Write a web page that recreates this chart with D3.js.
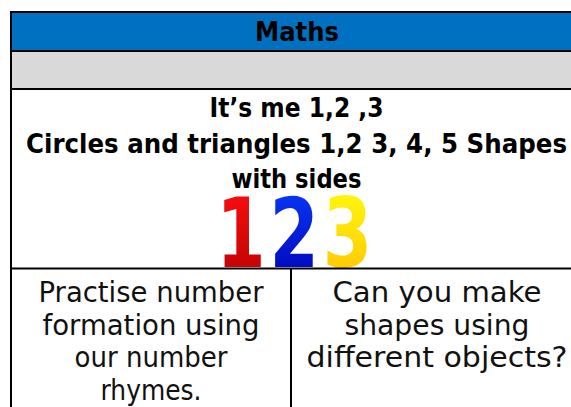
<!DOCTYPE html>
<html>
<head>
<meta charset="utf-8">
<script src="https://cdn.jsdelivr.net/npm/d3@7"></script>
<style>
  html, body { margin: 0; padding: 0; background: #ffffff; }
  svg { display: block; }
</style>
</head>
<body>
<div id="chart"></div>
<script>
// ---- content ----
const title = "Maths";
const topicLines = ["It’s me 1,2 ,3", "Circles and triangles 1,2 3, 4, 5 Shapes", "with sides"];
const topicWidths = [174, 541, 130];
const digits = ["1", "2", "3"];
const digitTop = ["#ff1010", "#0a3cff", "#ffff10"];
const digitBottom = ["#b80000", "#0000b0", "#ffbf00"];
const leftTask = ["Practise number", "formation using", "our number", "rhymes."];
const leftWidths = [225, 217, 153, 101];
const rightTask = ["Can you make", "shapes using", "different objects?"];
const rightWidths = [209, 185, 261];

// ---- layout ----
const W = 571, H = 407;
const tableX0 = 11, tableX1 = 581;
const rowY = d3.scaleOrdinal()
  .domain(["top", "head", "grey", "topic", "bottom"])
  .range([12, 51, 89, 268.5, 440]);
const colX = d3.scaleOrdinal().domain(["left", "mid", "right"]).range([tableX0, 291, tableX1]);

const svg = d3.select("#chart").append("svg").attr("width", W).attr("height", H);

// backgrounds
svg.append("rect").attr("x", tableX0).attr("y", rowY("top"))
  .attr("width", tableX1 - tableX0).attr("height", rowY("head") - rowY("top")).attr("fill", "#0070C0");
svg.append("rect").attr("x", tableX0).attr("y", rowY("head"))
  .attr("width", tableX1 - tableX0).attr("height", rowY("grey") - rowY("head")).attr("fill", "#D9D9D9");

// gradients for the digits
const defs = svg.append("defs");
digits.forEach((d, i) => {
  const g = defs.append("linearGradient").attr("id", "dg" + i)
    .attr("x1", 0).attr("y1", 0).attr("x2", 0).attr("y2", 1);
  g.append("stop").attr("offset", "0%").attr("stop-color", digitTop[i]);
  g.append("stop").attr("offset", "100%").attr("stop-color", digitBottom[i]);
});

// title
svg.append("text").attr("x", 297).attr("y", 41)
  .attr("text-anchor", "middle")
  .attr("font-family", "DejaVu Sans").attr("font-weight", "bold").attr("font-size", 27)
  .attr("textLength", 84).attr("lengthAdjust", "spacingAndGlyphs")
  .attr("fill", "#000").text(title);

// topic lines
const topicBase = [117, 153, 188];
svg.selectAll("text.topic").data(topicLines).enter().append("text")
  .attr("class", "topic")
  .attr("x", 296.5).attr("y", (d, i) => topicBase[i])
  .attr("text-anchor", "middle")
  .attr("font-family", "DejaVu Sans").attr("font-weight", "bold").attr("font-size", 26.5)
  .attr("textLength", (d, i) => topicWidths[i]).attr("lengthAdjust", "spacingAndGlyphs")
  .attr("fill", "#000").text(d => d);

// digits 1 2 3
const digitX = d3.scalePoint().domain(digits).range([241, 347.5]);
svg.selectAll("text.digit").data(digits).enter().append("text")
  .attr("class", "digit")
  .attr("transform", d => `translate(${digitX(d)},267) scale(0.74,1)`)
  .attr("text-anchor", "middle")
  .attr("font-family", "DejaVu Sans").attr("font-weight", "bold").attr("font-size", 96)
  .attr("fill", (d, i) => `url(#dg${i})`).text(d => d);

// bottom cells
const lineBase = [302, 334.5, 367, 399.5];
const leftCx = 151, rightCx = 437;
svg.selectAll("text.left").data(leftTask).enter().append("text")
  .attr("class", "left")
  .attr("x", leftCx).attr("y", (d, i) => lineBase[i])
  .attr("text-anchor", "middle")
  .attr("font-family", "DejaVu Sans").attr("font-size", 27.5)
  .attr("textLength", (d, i) => leftWidths[i]).attr("lengthAdjust", "spacingAndGlyphs")
  .attr("fill", "#111").text(d => d);
svg.selectAll("text.right").data(rightTask).enter().append("text")
  .attr("class", "right")
  .attr("x", rightCx).attr("y", (d, i) => lineBase[i])
  .attr("text-anchor", "middle")
  .attr("font-family", "DejaVu Sans").attr("font-size", 27.5)
  .attr("textLength", (d, i) => rightWidths[i]).attr("lengthAdjust", "spacingAndGlyphs")
  .attr("fill", "#111").text(d => d);

// grid lines
const lines = svg.append("g").attr("stroke", "#000").attr("stroke-width", 2).attr("fill", "none");
["top", "head", "grey", "topic"].forEach(k => {
  lines.append("line").attr("x1", tableX0 - 1).attr("x2", tableX1)
    .attr("y1", rowY(k)).attr("y2", rowY(k));
});
lines.append("line").attr("x1", tableX0).attr("x2", tableX0).attr("y1", rowY("top") - 1).attr("y2", H + 5);
lines.append("line").attr("x1", tableX1).attr("x2", tableX1).attr("y1", rowY("top")).attr("y2", H + 5);
lines.append("line").attr("x1", colX("mid")).attr("x2", colX("mid")).attr("y1", rowY("topic")).attr("y2", H + 5);
</script>
</body>
</html>
